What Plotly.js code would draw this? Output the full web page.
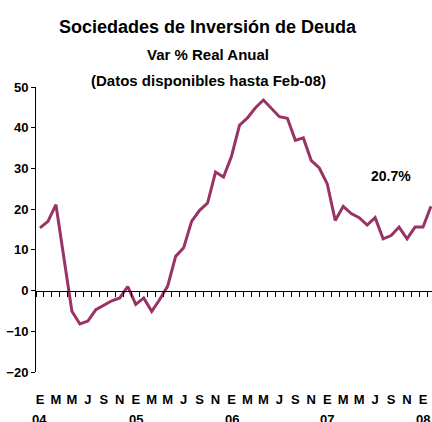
<!DOCTYPE html>
<html><head><meta charset="utf-8">
<script src="https://cdn.plot.ly/plotly-3.0.1.min.js"></script>
<style>html,body{margin:0;padding:0;background:#fff}#chart{width:432px;height:422px}</style>
</head><body><div id="chart"></div>
<script>
const titleLines = ["Sociedades de Inversión de Deuda", "Var % Real Anual", "(Datos disponibles hasta Feb-08)"];
const monthLetters = ["E","F","M","A","M","J","J","A","S","O","N","D"];
const yearLabels = ["04","05","06","07","08"];
// Monthly values Jan-2004 .. Feb-2008 (Var % Real Anual)
const values = [15.4, 17.0, 21.1, 8.0, -5.1, -8.2, -7.5, -4.7, -3.6, -2.5, -1.8, 1.0,
  -3.4, -1.8, -5.1, -2.2, 1.1, 8.4, 10.5, 17.0, 19.7, 21.5, 29.1, 27.9,
  33.0, 40.6, 42.4, 44.9, 46.8, 44.7, 42.7, 42.3, 36.9, 37.5, 31.9, 30.1,
  26.2, 17.2, 20.7, 18.9, 17.9, 16.1, 17.9, 12.7, 13.5, 15.6, 12.7, 15.6,
  15.6, 20.7];
const lastLabel = "20.7%";
const yTicks = [-20, -10, 0, 10, 20, 30, 40, 50];

const F = '"Liberation Sans", Arial, sans-serif';
const idx = values.map((v, i) => i);
const tickIdx = idx.filter(i => i % 2 === 0);
const tickText = tickIdx.map(i => monthLetters[i % 12]);
const boundaries = [];
for (let i = 0; i <= values.length; i++) boundaries.push(i - 0.5);
const xr = [-0.5, 49.125];

const trace = {
  x: idx, y: values, type: 'scatter', mode: 'lines',
  xaxis: 'x2', yaxis: 'y',
  line: {color: '#993366', width: 3}, hoverinfo: 'skip'
};

const annotations = [];
const titleSizes = [18, 15, 15];
const titleShift = [60, 33, 7];
titleLines.forEach((t, k) => annotations.push({
  text: t, xref: 'paper', yref: 'paper', x: 0.435, y: 1, yshift: titleShift[k],
  xanchor: 'center', yanchor: 'middle', showarrow: false,
  font: {family: F, size: titleSizes[k], color: '#000', weight: 'bold'}
}));
yearLabels.forEach((yl, k) => annotations.push({
  text: yl, xref: 'x', yref: 'paper', x: 12 * k, y: 0, yshift: -47,
  xanchor: 'center', yanchor: 'middle', showarrow: false,
  font: {family: F, size: 13, color: '#000', weight: 'bold'}
}));
annotations.push({
  text: lastLabel, xref: 'x', yref: 'y', x: 44.0, y: 28.2,
  xanchor: 'center', yanchor: 'middle', showarrow: false,
  font: {family: F, size: 14, color: '#000', weight: 'bold'}
});

const layout = {
  width: 432, height: 422,
  margin: {l: 36, r: 0, t: 87, b: 50, pad: 0},
  paper_bgcolor: '#fff', plot_bgcolor: '#fff',
  showlegend: false,
  xaxis: {
    range: xr, tickmode: 'array', tickvals: tickIdx, ticktext: tickText,
    showline: false, showgrid: false, zeroline: false, ticks: '',
    tickfont: {family: F, size: 13, color: '#000', weight: 'bold'},
    ticklabelstandoff: 18, fixedrange: true
  },
  xaxis2: {
    overlaying: 'x', anchor: 'free', position: 20 / 70, range: xr,
    tickmode: 'array', tickvals: boundaries, showticklabels: false,
    ticks: 'outside', ticklen: 5, tickwidth: 1, tickcolor: '#000',
    showline: true, linecolor: '#000', linewidth: 1,
    showgrid: false, zeroline: false, fixedrange: true
  },
  yaxis: {
    range: [-20, 50], tickmode: 'array', tickvals: yTicks,
    ticks: 'outside', ticklen: 4, tickwidth: 1, tickcolor: '#000',
    showline: true, linecolor: '#000', linewidth: 1,
    showgrid: false, zeroline: false,
    tickfont: {family: F, size: 13, color: '#000', weight: 'bold'},
    fixedrange: true
  },
  annotations: annotations
};

Plotly.newPlot('chart', [trace], layout, {staticPlot: true, displayModeBar: false});
</script>
</body></html>
